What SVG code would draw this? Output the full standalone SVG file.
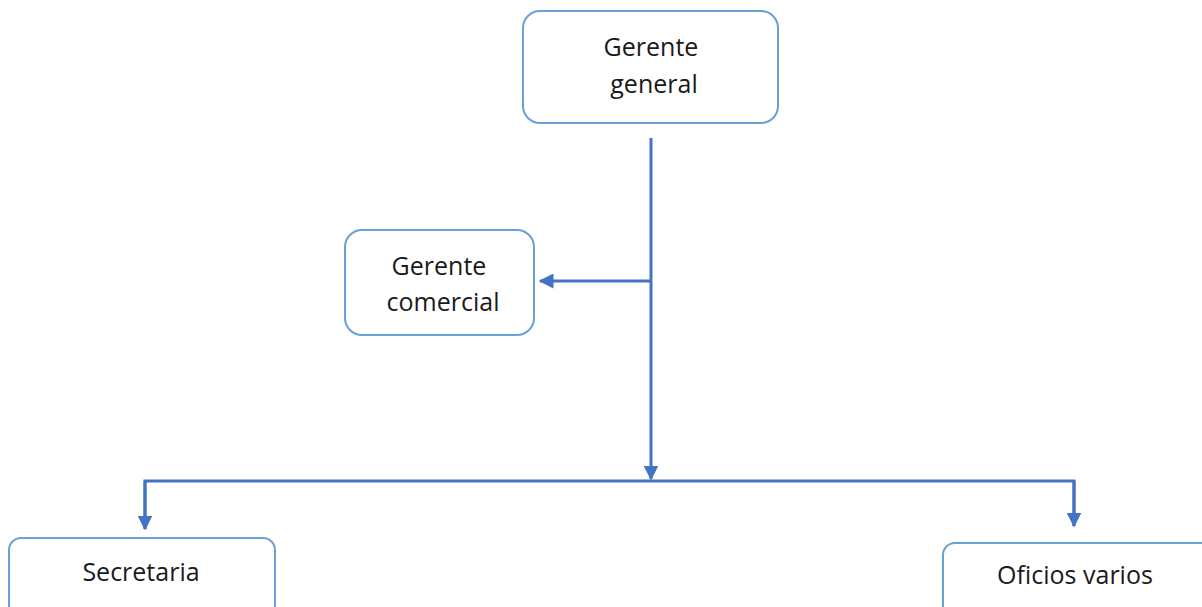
<svg xmlns="http://www.w3.org/2000/svg" width="1202" height="607" viewBox="0 0 1202 607">
<style>
.box{fill:#fff;stroke:#6a9fd8;stroke-width:2}
.lbl{font-family:"Open Sans","Liberation Sans",sans-serif;font-size:25px;fill:#1a1a1a;text-anchor:middle}
.con{fill:none;stroke:#4472c4;stroke-width:3}
</style>
<defs>
<marker id="ah" viewBox="0 0 10 10" refX="9" refY="5" markerWidth="5" markerHeight="5" orient="auto" markerUnits="strokeWidth">
<path d="M0,0 L10,5 L0,10 Z" fill="#4472c4"/>
</marker>
</defs>
<rect width="1202" height="607" fill="#fff"/>
<g id="connectors">
<path class="con" d="M651,138 V479" marker-end="url(#ah)"/>
<path class="con" d="M651,281 H540" marker-end="url(#ah)"/>
<path class="con" d="M145,529 V481 H1074 V526"/>
<path class="con" d="M145,481 V529" marker-end="url(#ah)"/>
<path class="con" d="M1074,481 V526" marker-end="url(#ah)"/>
</g>
<g id="gerente-general">
<rect class="box" x="523" y="11" width="255" height="112" rx="17"/>
<text class="lbl" x="651" y="56">Gerente</text>
<text class="lbl" x="654" y="93">general</text>
</g>
<g id="gerente-comercial">
<rect class="box" x="345" y="230" width="189" height="105" rx="17"/>
<text class="lbl" x="439" y="275">Gerente</text>
<text class="lbl" x="443" y="311">comercial</text>
</g>
<g id="secretaria">
<rect class="box" x="9" y="538" width="266" height="80" rx="12"/>
<text class="lbl" x="141" y="581">Secretaria</text>
</g>
<g id="oficios-varios">
<rect class="box" x="943" y="543" width="270" height="80" rx="12"/>
<text class="lbl" x="1075" y="584">Oficios varios</text>
</g>
</svg>
